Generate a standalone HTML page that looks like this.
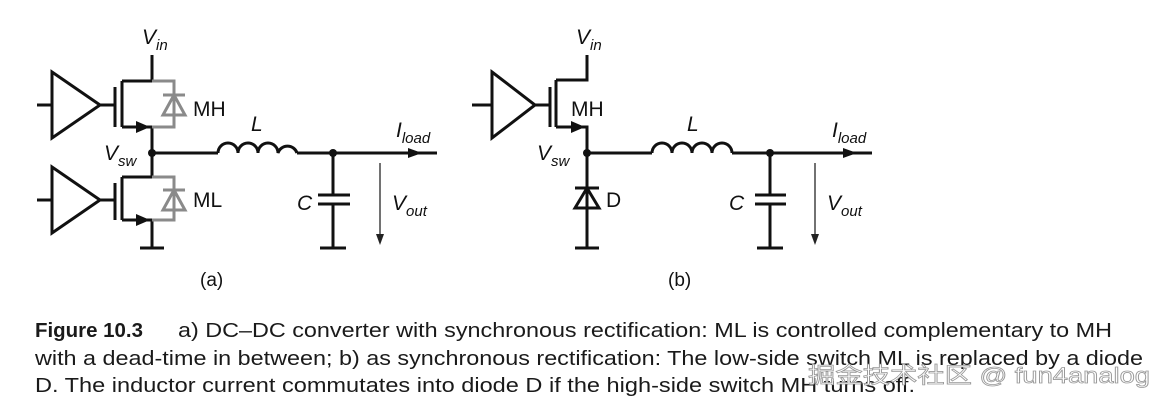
<!DOCTYPE html>
<html><head><meta charset="utf-8"><style>
html,body{margin:0;padding:0;background:#fff;}
svg{display:block;}
</style></head><body>
<svg width="1163" height="405" viewBox="0 0 1163 405" xmlns="http://www.w3.org/2000/svg" font-family="Liberation Sans, sans-serif">
<defs>
<marker id="ah" markerWidth="10" markerHeight="8" refX="9" refY="4" orient="auto" markerUnits="userSpaceOnUse"><path d="M0,0 L10,4 L0,8 Z" fill="#111"/></marker>
</defs>
<g stroke="#111" stroke-width="3" fill="none">
<!-- (a) -->
<path d="M37,105 H52 M52,72 L100,105 L52,138 Z M100,105 H115"/>
<path d="M115,87 V127 M122,81 V127 M122,81 H152 V55 M122,127 H152 V153"/>
<path d="M37,200 H52 M52,167 L100,200 L52,233 Z M100,200 H115"/>
<path d="M115,183 V220 M122,177 V220 M122,177 H152 V153 M122,220 H152 V248 M140,248 H164"/>
<path d="M152,153 H218"/>
<path d="M218,153 a10,10 0 0 1 20,0 a10,10 0 0 1 20,0 a10,10 0 0 1 20,0 a10,10 0 0 1 19,0 M297,153 H333 M333,153 H437"/>
<path d="M333,153 V195 M318,195 H350 M318,204 H350 M333,204 V248 M320,248 H346"/>
<!-- (b) -->
<path d="M472,105 H492 M492,72 L535,105 L492,138 Z M535,105 H550"/>
<path d="M550,87 V127 M556,80 V127 M556,80 H587 V55 M556,127 H587 V153"/>
<path d="M587,153 V248 M575,248 H599 M575,188 H599"/>
<path d="M587,153 H652 M652,153 a10,10 0 0 1 20,0 a10,10 0 0 1 20,0 a10,10 0 0 1 20,0 a10,10 0 0 1 20,0 M732,153 H872"/>
<path d="M770,153 V195 M755,195 H786 M755,204 H786 M770,204 V248 M757,248 H783"/>
</g>
<!-- source arrows -->
<g fill="#111">
<path d="M136,121 L150,127 L136,133 Z"/>
<path d="M136,214 L150,220 L136,226 Z"/>
<path d="M571,121 L585,127 L571,133 Z"/>
<path d="M575,208 L587,188 L599,208 Z" fill="none" stroke="#111" stroke-width="3"/>
<path d="M408,148 L422,153 L408,158 Z"/>
<path d="M843,148 L857,153 L843,158 Z"/>
<circle cx="152" cy="153" r="4"/><circle cx="333" cy="153" r="4"/>
<circle cx="587" cy="153" r="4"/><circle cx="770" cy="153" r="4"/>
</g>
<!-- gray diodes -->
<g stroke="#8a8a8a" stroke-width="3" fill="none">
<path d="M152,81 H174 V127 H152"/>
<path d="M163,95 H185 M163,115 L174,95 L185,115 Z"/>
<path d="M152,177 H174 V220 H152"/>
<path d="M163,190 H185 M163,210 L174,190 L185,210 Z"/>
</g>
<!-- Vout arrows -->
<g stroke="#444" stroke-width="1.5"><path d="M380,163 V240 M815,163 V240"/></g>
<g fill="#222"><path d="M376,234 L380,245 L384,234 Z"/><path d="M811,234 L815,245 L819,234 Z"/></g>
<!-- labels -->
<g fill="#111" font-size="21">
<text x="142" y="44" font-style="italic">V<tspan font-size="15" dy="6">in</tspan></text>
<text x="193" y="116">MH</text>
<text x="193" y="207">ML</text>
<text x="251" y="131" font-style="italic">L</text>
<text x="396" y="137" font-style="italic">I<tspan font-size="15" dy="6">load</tspan></text>
<text x="104" y="160" font-style="italic">V<tspan font-size="15" dy="6">sw</tspan></text>
<text x="297" y="210" font-style="italic">C</text>
<text x="392" y="210" font-style="italic">V<tspan font-size="15" dy="6">out</tspan></text>
<text x="200" y="286" font-size="19">(a)</text>
<text x="576" y="44" font-style="italic">V<tspan font-size="15" dy="6">in</tspan></text>
<text x="571" y="116">MH</text>
<text x="606" y="207">D</text>
<text x="687" y="131" font-style="italic">L</text>
<text x="832" y="137" font-style="italic">I<tspan font-size="15" dy="6">load</tspan></text>
<text x="537" y="160" font-style="italic">V<tspan font-size="15" dy="6">sw</tspan></text>
<text x="729" y="210" font-style="italic">C</text>
<text x="827" y="210" font-style="italic">V<tspan font-size="15" dy="6">out</tspan></text>
<text x="668" y="286" font-size="19">(b)</text>
</g>
<!-- caption -->
<g fill="#1a1a1a" font-size="20">
<text x="35" y="337" font-weight="bold" textLength="108" lengthAdjust="spacingAndGlyphs">Figure 10.3</text>
<text x="178" y="337" textLength="934" lengthAdjust="spacingAndGlyphs">a) DC–DC converter with synchronous rectification: ML is controlled complementary to MH</text>
<text x="35" y="365" textLength="1108" lengthAdjust="spacingAndGlyphs">with a dead-time in between; b) as synchronous rectification: The low-side switch ML is replaced by a diode</text>
<text x="35" y="392" textLength="880" lengthAdjust="spacingAndGlyphs">D. The inductor current commutates into diode D if the high-side switch MH turns off.</text>
</g>
<text x="808" y="383" font-size="22" fill="#fff" stroke="#999" stroke-width="0.8" font-family="Liberation Sans, Noto Sans CJK SC, sans-serif" textLength="342" lengthAdjust="spacingAndGlyphs">掘金技术社区 @ fun4analog</text>
</svg>
</body></html>
